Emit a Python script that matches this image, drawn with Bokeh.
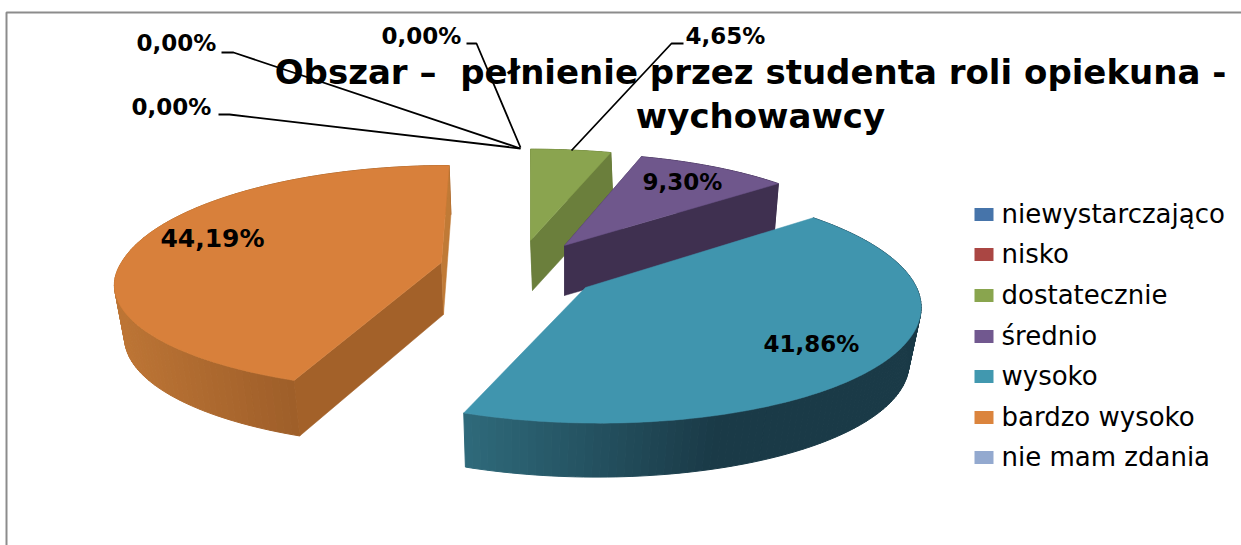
import math
from bokeh.plotting import figure
from bokeh.models import Range1d
from bokeh.core.properties import value
from bokeh.embed import file_html
from bokeh.resources import INLINE

title_lines = ["Obszar – \u00a0pełnienie przez studenta roli opiekuna -", "wychowawcy"]
categories = ["niewystarczająco", "nisko", "dostatecznie", "średnio", "wysoko", "bardzo wysoko", "nie mam zdania"]
shares = [0.00, 0.00, 4.65, 9.30, 41.86, 44.19, 0.00]
colors = ["#4674aa", "#aa4643", "#89a54e", "#71588f", "#4198af", "#db843d", "#93a9cf"]

# pixel layout of the exploded 3-D pie, per category index
geom = {
    2: dict(ax=530, ay=240, rx=319, ry=105, b=1.0, k=.15, sk=0, dx=2, d=50, srx=1.0, sry=1.0,
            top="#8aa44f", fs="#6b7f3c", fe="#6b7f3c", side=("#6b7f3c", "#6b7f3c")),
    3: dict(ax=564, ay=245, rx=305, ry=106, b=1.0, k=.15, sk=0, dx=0, d=50, srx=.98, sry=.98,
            top="#6f578c", fs="#3f3050", fe="#3f3050", side=("#3f3050", "#3f3050")),
    5: dict(ax=441, ay=262, rx=320, ry=105, b=1.09, k=.18, sk=9, dx=2, d=52, srx=.975, sry=1.03,
            top="#d8803b", fs="#a36129", fe="#c07a36", side=("#bd7535", "#9e5e29")),
    4: dict(ax=585, ay=287, rx=331, ry=118, b=1.0, k=.13, sk=-12, dx=-2, d=56, srx=.97, sry=.985,
            top="#4095ae", fs=None, fe=None, side=("#2f6b7c", "#1a3a47")),
}
draw_order = [2, 3, 5, 4]
label_xy = {2: (725, 35), 3: (682, 181), 4: (811, 343), 5: (212, 238), 0: (176, 42), 1: (171, 106), 6: (421, 35)}
label_px = {5: "25px"}
leaders = {
    0: ([221, 233, 520], [52, 52, 148]),
    1: ([218, 229, 520], [114, 114, 148]),
    6: ([466, 476, 520], [43, 43, 147]),
    2: ([683, 671, 571], [43, 43, 150]),
}
legend_y = [214, 254, 295, 336, 376, 417, 457]


def hexmix(a, b, t):
    t = max(0.0, min(1.0, t))
    ca = [int(a[i:i + 2], 16) for i in (1, 3, 5)]
    cb = [int(b[i:i + 2], 16) for i in (1, 3, 5)]
    return "#%02x%02x%02x" % tuple(round(x + (y - x) * t) for x, y in zip(ca, cb))


def pt(g, th, lower=False):
    X, Z = math.sin(th), math.cos(th)
    w = 1 + g["k"] * Z
    ax, ay, sx, sy = g["ax"], g["ay"], 1.0, 1.0
    if lower:
        ax, ay, sx, sy = ax + g["dx"], ay + g["d"], g["srx"], g["sry"]
    ry = g["ry"] * (g["b"] if Z > 0 else 1.0)
    return ax + sx * (g["rx"] * X + g["sk"] * Z) / w, ay - sy * ry * Z / w


p = figure(width=1241, height=545, x_range=Range1d(0, 1241), y_range=Range1d(545, 0),
           output_backend="svg", toolbar_location=None, min_border=0, outline_line_color=None,
           background_fill_color="white", border_fill_color="white")
p.axis.visible = False
p.grid.visible = False

# frame
p.line([6, 6, 1241], [545, 12, 12], line_color="#8c8c8c", line_width=2)

total = sum(shares)
bounds = {}
acc = 0.0
for i, v in enumerate(shares):
    bounds[i] = (acc / total * 2 * math.pi, (acc + v) / total * 2 * math.pi)
    acc += v

for i in draw_order:
    g = geom[i]
    t0, t1 = bounds[i]
    n = 120
    ths = [t0 + (t1 - t0) * j / n for j in range(n + 1)]
    # outer wall
    lo, hi = (115, 298) if i == 5 else (461, 720)
    for a, b in zip(ths[:-1], ths[1:]):
        A, B, C, D = pt(g, a), pt(g, b), pt(g, b, True), pt(g, a, True)
        c = hexmix(g["side"][0], g["side"][1], (A[0] - lo) / (hi - lo))
        p.patch([A[0], B[0], C[0], D[0]], [A[1], B[1], C[1], D[1]],
                fill_color=c, line_color=c, line_width=1)
    # cut faces
    for th, col in ((t0, g["fs"]), (t1, g["fe"])):
        if col is None:
            continue
        A, B = pt(g, th), pt(g, th, True)
        p.patch([g["ax"], A[0], B[0], g["ax"] + g["dx"]], [g["ay"], A[1], B[1], g["ay"] + g["d"]],
                fill_color=col, line_color=col, line_width=0.5)
    # top
    arc = [pt(g, t) for t in ths]
    p.patch([g["ax"]] + [q[0] for q in arc], [g["ay"]] + [q[1] for q in arc],
            fill_color=g["top"], line_color=g["top"], line_width=0.5)

# leader lines
for i, (lx, ly) in leaders.items():
    p.line(lx, ly, line_color="black", line_width=1.8)

# title
p.text([750, 760], [71, 115], text=title_lines, text_font=value("DejaVu Sans"), text_font_style="bold",
       text_font_size="34px", text_align="center", text_baseline="middle", text_color="black")

# data labels
for i, v in enumerate(shares):
    s = f"{v:.2f}".replace(".", ",") + "%"
    x, y = label_xy[i]
    p.text([x], [y], text=[s], text_font=value("DejaVu Sans"), text_font_style="bold",
           text_font_size=label_px.get(i, "23px"), text_align="center", text_baseline="middle", text_color="black")

# legend
p.rect([983.5] * 7, legend_y, width=19, height=13, fill_color=colors, line_color=None)
p.text([1001] * 7, [y - 1 for y in legend_y], text=categories, text_font=value("DejaVu Sans"),
       text_font_size="26px", text_align="left", text_baseline="middle", text_color="black")

open("out.html", "w").write(file_html(p, INLINE))
